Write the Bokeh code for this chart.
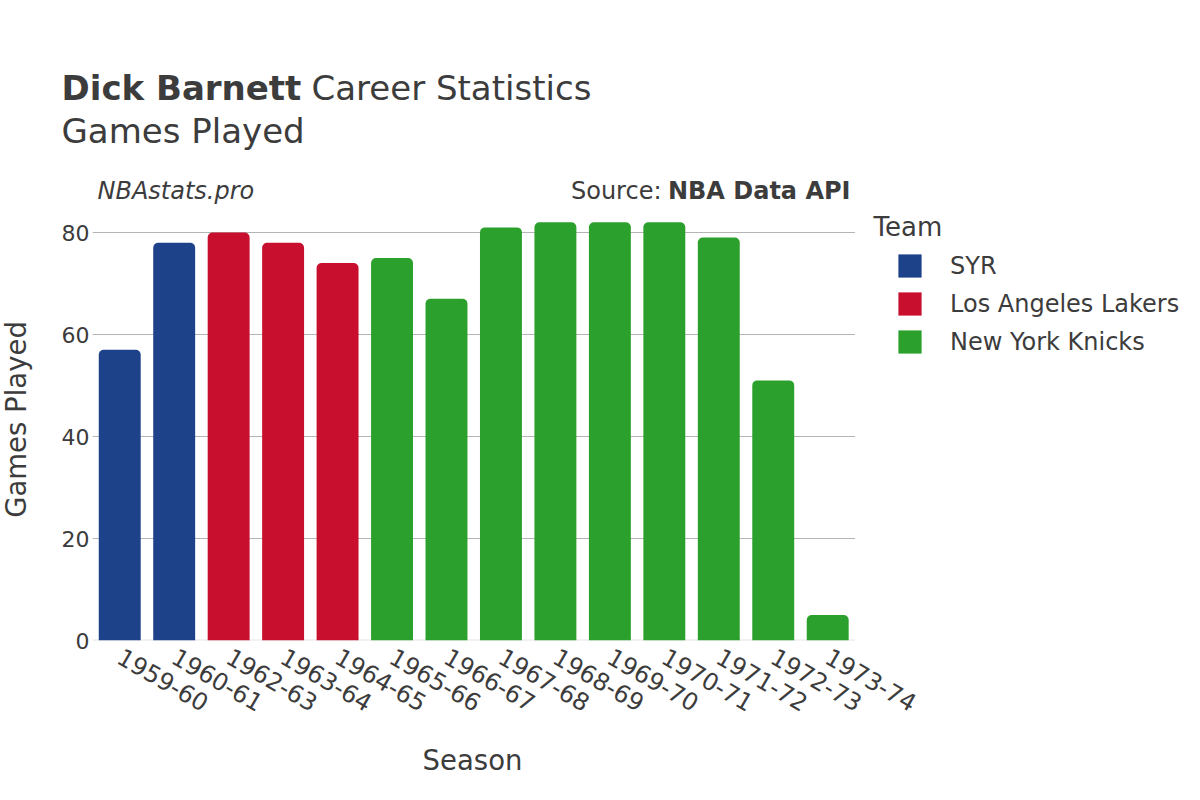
import math
from bokeh.plotting import figure
from bokeh.layouts import column, row
from bokeh.models import (ColumnDataSource, CDSView, GroupFilter, Legend,
                          LegendItem, FixedTicker, Range1d)
from bokeh.core.properties import value
from bokeh.embed import file_html
from bokeh.resources import INLINE

seasons = ["1959-60", "1960-61", "1962-63", "1963-64", "1964-65", "1965-66", "1966-67",
           "1967-68", "1968-69", "1969-70", "1970-71", "1971-72", "1972-73", "1973-74"]
games = [57, 78, 80, 78, 74, 75, 67, 81, 82, 82, 82, 79, 51, 5]
teams = ["SYR", "SYR", "Los Angeles Lakers", "Los Angeles Lakers", "Los Angeles Lakers",
         "New York Knicks", "New York Knicks", "New York Knicks", "New York Knicks",
         "New York Knicks", "New York Knicks", "New York Knicks", "New York Knicks",
         "New York Knicks"]
team_names = ["SYR", "Los Angeles Lakers", "New York Knicks"]
team_colors = ["#1D428A", "#C8102E", "#2CA02C"]
y_ticks = [0, 20, 40, 60, 80]

FONT = "DejaVu Sans"
TXT = "#3c3c3c"
W = 1184

# ---- geometry (page pixels) ----
LEFT_W = 50
FRAME_L, FRAME_TOP, FRAME_BOT = 92, 170, 640
PITCH = 54.46          # px per category
PX_PER_UNIT = 5.1      # px per game
HEADER_H = FRAME_TOP
MAIN_H = 560
FOOTER_H = 784 - HEADER_H - MAIN_H
BASE_K = 0.35          # baseline correction (fraction of font size)


def X(px):
    return (px - FRAME_L) / PITCH - 0.5


def Y(py):
    return (FRAME_BOT - py) / PX_PER_UNIT


def add_text(fig, x, y, text, size, style="normal", align="left", angle=0.0, color=TXT):
    fig.text(x=[x], y=[y], text=[text], text_font=value(FONT), text_font_size=value(f"{size}px"),
             text_font_style=value(style), text_align=value(align), angle=angle,
             text_baseline=value("alphabetic"), text_color=color)


def blank_fig(w, h, top):
    f = figure(width=w, height=h, output_backend="svg", toolbar_location=None,
               x_range=Range1d(0, w), y_range=Range1d(top + h, top),
               x_axis_location=None, y_axis_location=None,
               min_border_left=0, min_border_right=0, min_border_top=0, min_border_bottom=0,
               outline_line_color=None, frame_align=False)
    f.xgrid.visible = False
    f.ygrid.visible = False
    return f


# ---- header (coordinates = page pixels) ----
header = blank_fig(W, HEADER_H, 0)
add_text(header, 61, 99 - BASE_K * 34, "Dick Barnett", 34, "bold")
add_text(header, 311, 99 - BASE_K * 34, "Career Statistics", 34)
add_text(header, 61, 142 - BASE_K * 34, "Games Played", 34)

# ---- left strip with y-axis title ----
left = blank_fig(LEFT_W, MAIN_H, HEADER_H)
add_text(left, 25 - BASE_K * 27.5, 419, "Games Played", 27.5, align="center", angle=math.pi / 2)

# ---- main plot ----
xs = list(range(len(seasons)))
source = ColumnDataSource(data=dict(x=xs, season=seasons, games=games, team=teams))

frame_w = W - FRAME_L
frame_h = FRAME_BOT - FRAME_TOP
p = figure(width=W - LEFT_W, height=MAIN_H, output_backend="svg", toolbar_location=None,
           x_range=Range1d(-0.5, -0.5 + frame_w / PITCH),
           y_range=Range1d(0, frame_h / PX_PER_UNIT),
           min_border_left=FRAME_L - LEFT_W, min_border_right=0, min_border_top=0,
           min_border_bottom=MAIN_H - frame_h, outline_line_color=None, frame_align=False)

p.xgrid.visible = False
p.ygrid.visible = False

grid_y = [t for t in y_ticks if t > 0]
p.segment(x0=[-0.5] * len(grid_y), x1=[len(seasons) - 0.5] * len(grid_y),
          y0=grid_y, y1=grid_y, line_color="#b4b4b4", line_width=1)
p.segment(x0=[-0.5], x1=[len(seasons) - 0.5], y0=[0], y1=[0],
          line_color="#e6e6e6", line_width=2)

renderers = []
for name, col in zip(team_names, team_colors):
    view = CDSView(filter=GroupFilter(column_name="team", group=name))
    r = p.vbar(x="x", top="games", width=0.77, source=source, view=view,
               fill_color=col, line_color=None, border_radius=(5, 5, 0, 0))
    renderers.append(r)

p.xaxis.ticker = FixedTicker(ticks=xs)
p.xaxis.major_label_overrides = {i: s for i, s in enumerate(seasons)}
p.yaxis.ticker = FixedTicker(ticks=y_ticks)
for ax in (p.xaxis, p.yaxis):
    ax.axis_line_color = None
    ax.major_tick_line_color = None
    ax.minor_tick_line_color = None
    ax.major_tick_out = 0
    ax.major_tick_in = 0
    ax.major_label_text_font = FONT
    ax.major_label_text_color = TXT
p.xaxis.major_label_text_font_size = "24px"
p.yaxis.major_label_text_font_size = "22px"
p.xaxis.major_label_orientation = -0.5236
p.xaxis.major_label_standoff = 14
p.yaxis.major_label_standoff = 3

add_text(p, X(97), Y(199 - BASE_K * 24), "NBAstats.pro", 24, "italic")
add_text(p, X(850), Y(199 - BASE_K * 24), "NBA Data API", 24, "bold", align="right")
add_text(p, X(661), Y(199 - BASE_K * 24), "Source:", 24, align="right")
add_text(p, X(873), Y(236 - BASE_K * 26), "Team", 26)

legend = Legend(items=[LegendItem(label=n, renderers=[r]) for n, r in zip(team_names, renderers)],
                location=(803, 284), orientation="vertical",
                border_line_color=None, background_fill_alpha=0, padding=0, margin=0,
                glyph_width=29, glyph_height=29, label_height=23, spacing=9,
                label_standoff=26, label_text_font=FONT, label_text_font_size="24px",
                label_text_color=TXT)
p.add_layout(legend, "center")

# ---- footer with x-axis title ----
footer = blank_fig(W, FOOTER_H, HEADER_H + MAIN_H)
add_text(footer, 472, 769 - BASE_K * 27.5, "Season", 27.5, align="center")

layout = column(header, row(left, p, spacing=0), footer, spacing=0)
open("out.html", "w").write(file_html(layout, INLINE))
